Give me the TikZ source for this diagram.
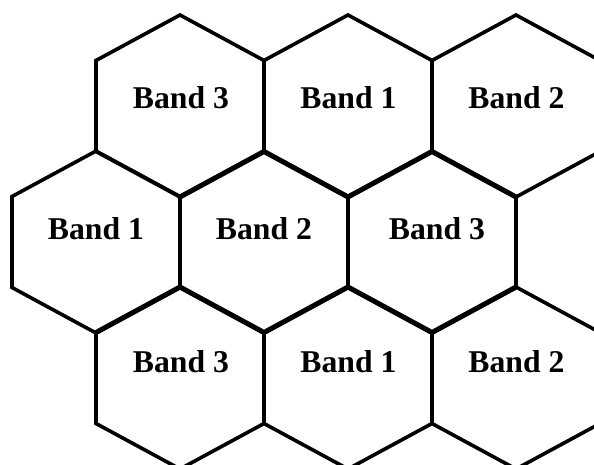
\documentclass[tikz,border=0pt]{standalone}
\usepackage{fontspec}
\setmainfont{Liberation Serif}
\begin{document}
\begin{tikzpicture}[x=1pt,y=-1pt,
  hexedge/.style={line width=3.6pt,line join=miter,draw=black},
  sharededge/.style={line width=5pt,line join=miter,draw=black},
  lbl/.style={font=\bfseries\fontsize{31.7}{36}\selectfont,anchor=base,inner sep=0pt}]
\useasboundingbox (0,0) rectangle (594,464);
\begin{scope}
\clip (0,0) rectangle (594,464);
\foreach \cx/\cy in {180/106,348/106,516/106,96/242,264/242,432/242,180/378,348/378,516/378}
  \draw[hexedge] (\cx,\cy-91) -- ++(84,45.5) -- ++(0,91) -- ++(-84,45.5) -- ++(-84,-45.5) -- ++(0,-91) -- cycle;
\draw[sharededge] (180,197) -- (264,151.5) -- (348,197) -- (432,151.5) -- (516,197);
\draw[sharededge] (96,332.5) -- (180,287) -- (264,332.5) -- (348,287) -- (432,332.5) -- (516,287);
\end{scope}
\node[lbl] (r1a) at (181,108) {Band 3};
\node[lbl] (r1b) at (348.5,108) {Band 1};
\node[lbl] (r1c) at (516.5,108) {Band 2};
\node[lbl] (r2a) at (96,239) {Band 1};
\node[lbl] (r2b) at (264,239) {Band 2};
\node[lbl] (r2c) at (437,239) {Band 3};
\node[lbl] (r3a) at (181,372) {Band 3};
\node[lbl] (r3b) at (348.5,372) {Band 1};
\node[lbl] (r3c) at (516.5,372) {Band 2};
\end{tikzpicture}
\end{document}
